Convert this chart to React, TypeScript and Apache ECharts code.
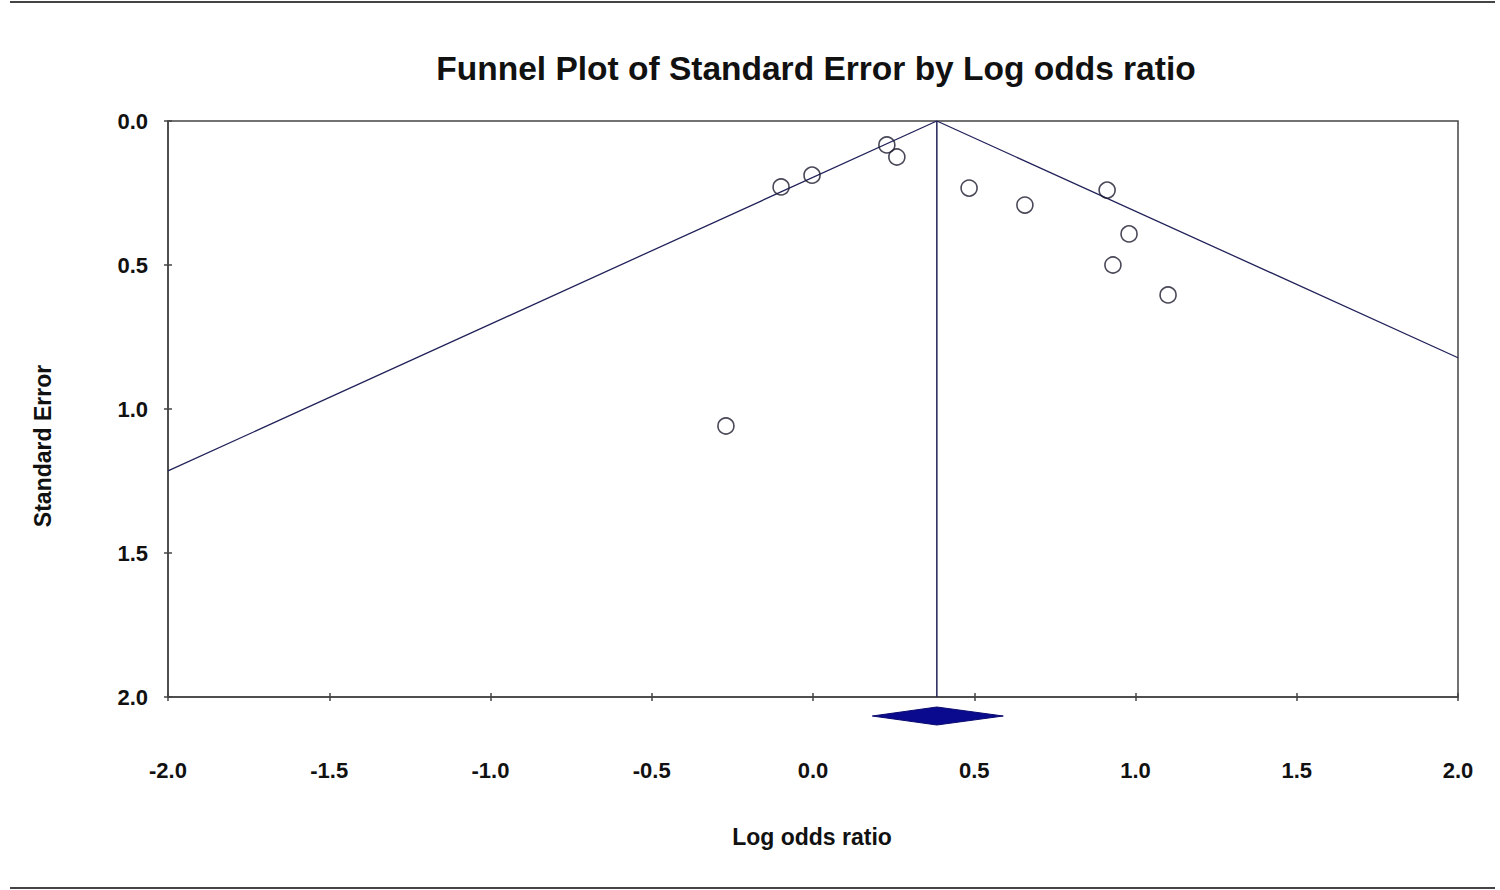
import React, { useEffect, useRef } from "react";
import * as echarts from "echarts";

const titleText = "Funnel Plot of Standard Error by Log odds ratio";
const xName = "Log odds ratio";
const yName = "Standard Error";

const studyLogOR = [-0.099, -0.003, 0.229, 0.26, 0.484, 0.657, 0.912, 0.98, 0.93, 1.101, -0.27];
const studySE = [0.229, 0.188, 0.083, 0.125, 0.233, 0.292, 0.24, 0.392, 0.5, 0.604, 1.059];

const pooledEstimate = 0.384;
const pooledLower = 0.184;
const pooledUpper = 0.59;

const funnelX = [-2, 0.384, 2];
const funnelY = [1.215, 0, 0.822];

const xMin = -2;
const xMax = 2;
const xStep = 0.5;
const yMin = 0;
const yMax = 2;
const yStep = 0.5;

const FONT = "'Liberation Sans', Arial, sans-serif";
const FRAME = "#444444";
const NAVY = "#22225a";

export default function App() {
  const ref = useRef<HTMLDivElement>(null);

  useEffect(() => {
    if (!ref.current) return;
    const chart = echarts.init(ref.current, null, { renderer: "svg" });

    const points = studyLogOR.map((x, i) => [x, studySE[i]]);
    const funnel = funnelX.map((x, i) => [x, funnelY[i]]);

    const tickLabelStyle = {
      fontFamily: FONT,
      fontWeight: "bold" as const,
      fontSize: 22,
      color: "#111",
      formatter: (v: number) => v.toFixed(1),
    };

    chart.setOption({
      animation: false,
      backgroundColor: "#ffffff",
      title: {
        text: titleText,
        left: 811,
        top: 46,
        textAlign: "center",
        textStyle: { fontFamily: FONT, fontWeight: "bold", fontSize: 33.5, color: "#111" },
      },
      grid: {
        left: 168,
        right: 42,
        top: 121,
        bottom: 193,
        show: true,
        borderColor: FRAME,
        borderWidth: 1.5,
        backgroundColor: "transparent",
      },
      xAxis: [
        {
          type: "value",
          min: xMin,
          max: xMax,
          interval: xStep,
          position: "bottom",
          splitLine: { show: false },
          axisLine: { show: true, onZero: false, lineStyle: { color: FRAME, width: 1.5 } },
          axisTick: { show: true, inside: false, length: 4, lineStyle: { color: FRAME, width: 1.5 } },
          axisLabel: { ...tickLabelStyle, margin: 62 },
        },
        {
          type: "value",
          min: xMin,
          max: xMax,
          interval: xStep,
          position: "bottom",
          splitLine: { show: false },
          axisLine: { show: false, onZero: false },
          axisTick: { show: true, inside: true, length: 4, lineStyle: { color: FRAME, width: 1.5 } },
          axisLabel: { show: false },
        },
      ],
      yAxis: [
        {
          type: "value",
          min: yMin,
          max: yMax,
          interval: yStep,
          inverse: true,
          position: "left",
          splitLine: { show: false },
          axisLine: { show: true, onZero: false, lineStyle: { color: FRAME, width: 1.5 } },
          axisTick: { show: true, inside: false, length: 4, lineStyle: { color: FRAME, width: 1.5 } },
          axisLabel: { ...tickLabelStyle, margin: 20 },
        },
        {
          type: "value",
          min: yMin,
          max: yMax,
          interval: yStep,
          inverse: true,
          position: "left",
          splitLine: { show: false },
          axisLine: { show: false, onZero: false },
          axisTick: { show: true, inside: true, length: 4, lineStyle: { color: FRAME, width: 1.5 } },
          axisLabel: { show: false },
        },
      ],
      graphic: [
        {
          type: "line",
          shape: { x1: 10, y1: 2, x2: 1495, y2: 2 },
          style: { stroke: FRAME, lineWidth: 2 },
        },
        {
          type: "line",
          shape: { x1: 10, y1: 888, x2: 1495, y2: 888 },
          style: { stroke: FRAME, lineWidth: 2 },
        },
        {
          type: "text",
          x: 812,
          y: 837,
          style: {
            text: xName,
            fontFamily: FONT,
            fontWeight: "bold",
            fontSize: 23,
            fill: "#111",
            align: "center",
            verticalAlign: "middle",
          },
        },
        {
          type: "text",
          x: 43,
          y: 446,
          rotation: Math.PI / 2,
          style: {
            text: yName,
            fontFamily: FONT,
            fontWeight: "bold",
            fontSize: 23,
            fill: "#111",
            align: "center",
            verticalAlign: "middle",
          },
        },
      ],
      series: [
        {
          type: "line",
          data: funnel,
          symbol: "none",
          lineStyle: { color: NAVY, width: 1.3 },
          z: 2,
        },
        {
          type: "line",
          data: [
            [pooledEstimate, yMin],
            [pooledEstimate, yMax],
          ],
          symbol: "none",
          lineStyle: { color: NAVY, width: 1.5 },
          z: 2,
        },
        {
          type: "scatter",
          data: points,
          symbol: "circle",
          symbolSize: 16,
          itemStyle: { color: "rgba(255,255,255,0)", borderColor: "#1a1a2e", borderWidth: 1.6 },
          z: 3,
        },
        {
          type: "custom",
          clip: false,
          data: [[pooledEstimate, pooledLower, pooledUpper]],
          renderItem: (params: any, api: any) => {
            const c = api.coord([api.value(0), yMax]);
            const l = api.coord([api.value(1), yMax]);
            const r = api.coord([api.value(2), yMax]);
            const cy = c[1] + 19;
            const h = 9;
            return {
              type: "polygon",
              shape: {
                points: [
                  [l[0], cy],
                  [c[0], cy - h],
                  [r[0], cy],
                  [c[0], cy + h],
                ],
              },
              style: { fill: "#0a0a8f", stroke: "#0a0a6f", lineWidth: 1 },
            };
          },
          z: 4,
        },
      ],
    });

    return () => chart.dispose();
  }, []);

  return (
    <div
      ref={ref}
      style={{ position: "absolute", left: 0, top: 0, width: 1500, height: 890 }}
    />
  );
}
